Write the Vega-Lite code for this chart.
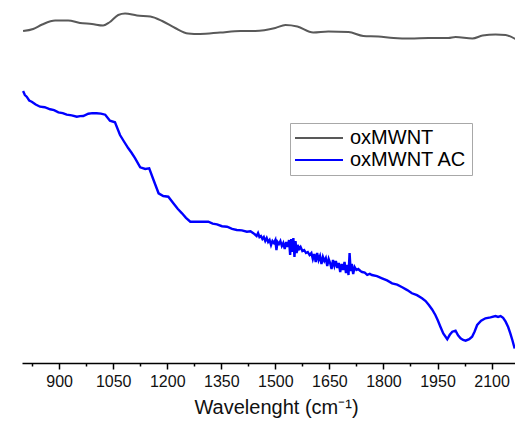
{
  "$schema": "https://vega.github.io/schema/vega-lite/v6.json",
  "autosize": "none",
  "width": 493,
  "height": 363,
  "padding": {"left": 22, "top": 0, "right": 0, "bottom": 58},
  "background": "white",
  "config": {"view": {"stroke": null}},
  "datasets": {
    "oxmwnt": [
      {"w": 800, "T": 332}, {"w": 828, "T": 334}, {"w": 853, "T": 338.5}, {"w": 889, "T": 342.5},
      {"w": 925, "T": 342.5}, {"w": 958, "T": 340}, {"w": 991, "T": 339}, {"w": 1022, "T": 337.5},
      {"w": 1041, "T": 341}, {"w": 1064, "T": 348}, {"w": 1083, "T": 349.5}, {"w": 1116, "T": 347.5},
      {"w": 1153, "T": 346.5}, {"w": 1186, "T": 342}, {"w": 1222, "T": 335}, {"w": 1258, "T": 329.5},
      {"w": 1291, "T": 329}, {"w": 1347, "T": 330.5}, {"w": 1403, "T": 332}, {"w": 1444, "T": 332},
      {"w": 1500, "T": 335}, {"w": 1528, "T": 338}, {"w": 1561, "T": 336.5}, {"w": 1605, "T": 330.5},
      {"w": 1647, "T": 331.5}, {"w": 1703, "T": 331}, {"w": 1744, "T": 327}, {"w": 1786, "T": 326.5},
      {"w": 1828, "T": 325}, {"w": 1875, "T": 324.5}, {"w": 1925, "T": 325}, {"w": 1980, "T": 325},
      {"w": 2000, "T": 326}, {"w": 2047, "T": 324.5}, {"w": 2075, "T": 327.5}, {"w": 2111, "T": 328.5},
      {"w": 2139, "T": 328}, {"w": 2166, "T": 324}
    ],
    "oxmwnt_ac": [
      {"w": 800, "T": 272}, {"w": 805, "T": 268}, {"w": 810, "T": 266.3}, {"w": 817, "T": 262.5},
      {"w": 824, "T": 261.3}, {"w": 835, "T": 258.5}, {"w": 847, "T": 256.3}, {"w": 860, "T": 255.8},
      {"w": 875, "T": 253.7}, {"w": 886, "T": 252.9}, {"w": 898, "T": 250.7}, {"w": 910, "T": 249.8},
      {"w": 921, "T": 248.3}, {"w": 935, "T": 247.6}, {"w": 949, "T": 246.3}, {"w": 958, "T": 246.9},
      {"w": 967, "T": 247}, {"w": 981, "T": 249.3}, {"w": 992, "T": 249.9}, {"w": 1004, "T": 249.7},
      {"w": 1016, "T": 249.4}, {"w": 1028, "T": 248.3}, {"w": 1041, "T": 242.3}, {"w": 1055, "T": 240.7},
      {"w": 1069, "T": 228}, {"w": 1080, "T": 221.5}, {"w": 1092, "T": 214.7}, {"w": 1101, "T": 210.2},
      {"w": 1111, "T": 204.7}, {"w": 1125, "T": 195.7}, {"w": 1139, "T": 194}, {"w": 1150, "T": 194.7},
      {"w": 1162, "T": 183}, {"w": 1176, "T": 169.7}, {"w": 1189, "T": 167}, {"w": 1203, "T": 166.3},
      {"w": 1217, "T": 159.7}, {"w": 1229, "T": 154.2}, {"w": 1241, "T": 149.7}, {"w": 1252, "T": 145.2},
      {"w": 1264, "T": 141.3}, {"w": 1291, "T": 141.3}, {"w": 1314, "T": 141.3}, {"w": 1326, "T": 139.4},
      {"w": 1338, "T": 138.7}, {"w": 1352, "T": 136.8}, {"w": 1366, "T": 136.3}, {"w": 1380, "T": 134.1},
      {"w": 1393, "T": 133}, {"w": 1407, "T": 132.6}, {"w": 1421, "T": 131.3}, {"w": 1431, "T": 131.8},
      {"w": 1439, "T": 129.7},
      {"w": 1442, "T": 129}, {"w": 1448, "T": 127}, {"w": 1452, "T": 130}, {"w": 1456, "T": 126},
      {"w": 1460, "T": 127}, {"w": 1464, "T": 124}, {"w": 1468, "T": 126}, {"w": 1472, "T": 122},
      {"w": 1476, "T": 125}, {"w": 1480, "T": 121}, {"w": 1484, "T": 123}, {"w": 1488, "T": 118},
      {"w": 1492, "T": 122}, {"w": 1496, "T": 120}, {"w": 1500, "T": 123}, {"w": 1503, "T": 113},
      {"w": 1506, "T": 121}, {"w": 1510, "T": 119}, {"w": 1514, "T": 122}, {"w": 1518, "T": 117},
      {"w": 1522, "T": 120}, {"w": 1526, "T": 114}, {"w": 1530, "T": 121}, {"w": 1534, "T": 116},
      {"w": 1538, "T": 123}, {"w": 1541, "T": 108}, {"w": 1544, "T": 124}, {"w": 1547, "T": 111},
      {"w": 1550, "T": 125}, {"w": 1553, "T": 106}, {"w": 1556, "T": 122}, {"w": 1559, "T": 110},
      {"w": 1562, "T": 118}, {"w": 1566, "T": 114}, {"w": 1570, "T": 116}, {"w": 1575, "T": 112},
      {"w": 1580, "T": 113}, {"w": 1585, "T": 110}, {"w": 1590, "T": 111}, {"w": 1595, "T": 108},
      {"w": 1600, "T": 110}, {"w": 1604, "T": 104}, {"w": 1608, "T": 109}, {"w": 1612, "T": 101},
      {"w": 1616, "T": 110}, {"w": 1620, "T": 103}, {"w": 1624, "T": 107}, {"w": 1628, "T": 99},
      {"w": 1632, "T": 106}, {"w": 1636, "T": 102}, {"w": 1640, "T": 105}, {"w": 1644, "T": 97},
      {"w": 1648, "T": 104}, {"w": 1652, "T": 100}, {"w": 1656, "T": 94}, {"w": 1660, "T": 103},
      {"w": 1664, "T": 97}, {"w": 1668, "T": 102}, {"w": 1672, "T": 95}, {"w": 1676, "T": 100},
      {"w": 1680, "T": 91}, {"w": 1684, "T": 99}, {"w": 1688, "T": 93}, {"w": 1692, "T": 101},
      {"w": 1696, "T": 90}, {"w": 1700, "T": 98}, {"w": 1703, "T": 88}, {"w": 1706, "T": 110},
      {"w": 1709, "T": 92}, {"w": 1712, "T": 99}, {"w": 1716, "T": 89}, {"w": 1720, "T": 96},
      {"w": 1725, "T": 93}, {"w": 1730, "T": 94}, {"w": 1736, "T": 92}, {"w": 1741, "T": 91},
      {"w": 1748, "T": 90.5}, {"w": 1755, "T": 88.2}, {"w": 1762, "T": 89.1}, {"w": 1768, "T": 88},
      {"w": 1782, "T": 86.9}, {"w": 1796, "T": 84.7}, {"w": 1810, "T": 82.6}, {"w": 1824, "T": 79.7},
      {"w": 1838, "T": 78.4}, {"w": 1852, "T": 75.7}, {"w": 1866, "T": 72.9}, {"w": 1879, "T": 69.7},
      {"w": 1893, "T": 67.8}, {"w": 1907, "T": 64.7}, {"w": 1917, "T": 62}, {"w": 1926, "T": 58},
      {"w": 1935, "T": 53.5}, {"w": 1944, "T": 48}, {"w": 1951, "T": 42.5}, {"w": 1958, "T": 36.3},
      {"w": 1966, "T": 29.5}, {"w": 1977, "T": 23.7}, {"w": 1984, "T": 28.2}, {"w": 1991, "T": 31.3},
      {"w": 2000, "T": 32.3}, {"w": 2007, "T": 27.6}, {"w": 2014, "T": 24.7}, {"w": 2021, "T": 23.1},
      {"w": 2028, "T": 22.3}, {"w": 2038, "T": 23.8}, {"w": 2046, "T": 26.3}, {"w": 2053, "T": 31.5},
      {"w": 2060, "T": 38}, {"w": 2071, "T": 42.2}, {"w": 2083, "T": 44.7}, {"w": 2097, "T": 45.6},
      {"w": 2111, "T": 47}, {"w": 2118, "T": 46.1}, {"w": 2125, "T": 47}, {"w": 2132, "T": 45.2},
      {"w": 2139, "T": 41.3}, {"w": 2146, "T": 36}, {"w": 2152, "T": 29.7}, {"w": 2158, "T": 22.5},
      {"w": 2164, "T": 14.5}
    ]
  },
  "layer": [
    {
      "data": {"name": "oxmwnt"},
      "transform": [{"calculate": "'oxMWNT'", "as": "sample"}],
      "mark": {"type": "line", "strokeWidth": 2, "clip": true, "interpolate": "monotone"},
      "encoding": {
        "x": {"field": "w", "type": "quantitative"},
        "y": {"field": "T", "type": "quantitative"},
        "color": {"field": "sample", "type": "nominal"}
      }
    },
    {
      "data": {"name": "oxmwnt_ac"},
      "transform": [{"calculate": "'oxMWNT AC'", "as": "sample"}],
      "mark": {"type": "line", "strokeWidth": 2.4, "clip": true},
      "encoding": {
        "x": {"field": "w", "type": "quantitative"},
        "y": {"field": "T", "type": "quantitative"},
        "color": {"field": "sample", "type": "nominal"}
      }
    }
  ],
  "encoding": {
    "x": {
      "field": "w",
      "type": "quantitative",
      "scale": {"domain": [797, 2165], "nice": false, "zero": false},
      "axis": {
        "title": "Wavelenght (cm⁻¹)",
        "titleFont": "Liberation Sans",
        "titleFontSize": 20,
        "titleFontWeight": "normal",
        "titleColor": "#111111",
        "titleX": 254,
        "titlePadding": 8,
        "values": [825, 900, 975, 1050, 1125, 1200, 1275, 1350, 1425, 1500, 1575, 1650, 1725, 1800, 1875, 1950, 2025, 2100],
        "labelExpr": "datum.value % 150 === 0 ? format(datum.value, 'd') : ''",
        "labelFont": "Liberation Sans",
        "labelFontSize": 16,
        "labelColor": "#111111",
        "labelPadding": 4,
        "labelFlush": false,
        "labelOverlap": false,
        "grid": false,
        "domainColor": "#000000",
        "domainWidth": 1.5,
        "tickColor": "#000000",
        "tickWidth": 1.5,
        "tickSize": {"condition": {"test": "datum.value % 150 === 0", "value": 6}, "value": 3}
      }
    },
    "y": {
      "field": "T",
      "type": "quantitative",
      "scale": {"domain": [0, 363], "nice": false, "zero": false},
      "axis": null
    },
    "color": {
      "field": "sample",
      "type": "nominal",
      "scale": {"domain": ["oxMWNT", "oxMWNT AC"], "range": ["#595959", "#0000ff"]},
      "legend": {
        "orient": "none",
        "legendX": 268,
        "legendY": 123,
        "title": null,
        "fillColor": "white",
        "strokeColor": "#a8a8a8",
        "padding": 5,
        "symbolType": "M-1.25,0H4.75",
        "symbolSize": 256,
        "symbolStrokeWidth": 2,
        "labelFont": "Liberation Sans",
        "labelFontSize": 20,
        "labelColor": "#000000",
        "labelOffset": 35,
        "rowPadding": 2
      }
    }
  }
}
